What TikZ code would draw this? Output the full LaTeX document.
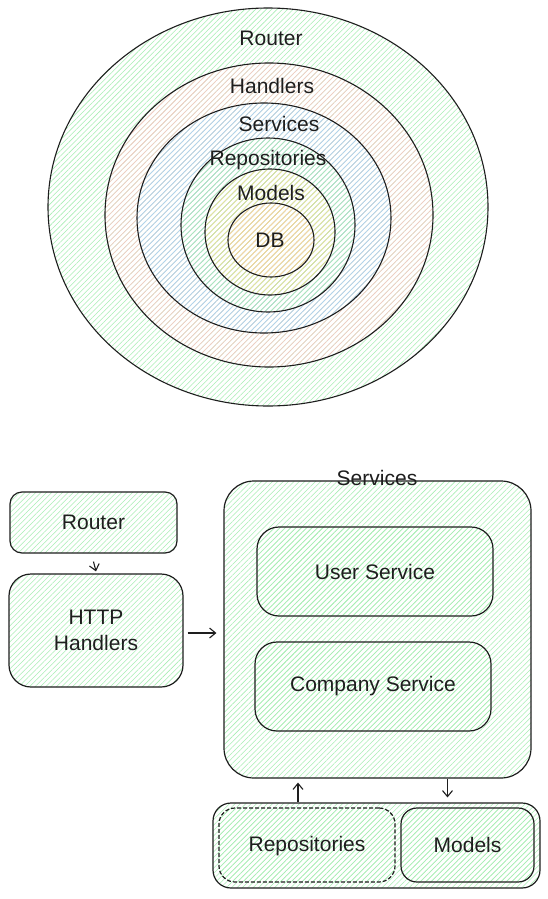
\documentclass[tikz,border=0pt]{standalone}
\usepackage{fontspec}
\setmainfont{Liberation Sans}
\usetikzlibrary{patterns.meta,arrows.meta,shapes.geometric,calc}
\definecolor{ink}{HTML}{1E1E1E}
\definecolor{hgreen}{HTML}{A8EEB4}
\definecolor{hpink}{HTML}{FFC4C4}
\definecolor{hblue}{HTML}{A0D4FA}
\definecolor{hyellow}{HTML}{F8E48E}
\definecolor{horange}{HTML}{FFD0A0}
\tikzset{
  hatch/.style={pattern={Lines[angle=45,distance=3.8pt,line width=0.55pt]}, pattern color=#1},
  ring/.style={ellipse, draw=ink, line width=1.1pt, hatch=#1, inner sep=0pt},
  box/.style={rectangle, draw=ink, line width=1.2pt, rounded corners=#1, hatch=hgreen, inner sep=0pt},
  lbl/.style={font=\fontsize{21}{26}\selectfont, text=ink, align=center},
  arr/.style={draw=ink, line width=1.1pt, -{Straight Barb[length=6pt,width=10pt]}},
}
\begin{document}
\begin{tikzpicture}[x=1pt,y=-1pt]
\useasboundingbox (0,0) rectangle (548,899);
\fill[white] (0,0) rectangle (548,899);
% ---- concentric layers ----
\node[ring=hgreen,  minimum width=440pt, minimum height=398pt] (eRouter)   at (268,207) {};
\node[ring=hpink,   minimum width=328pt, minimum height=304pt] (eHandlers) at (269,215) {};
\node[ring=hblue,   minimum width=254pt, minimum height=230pt] (eServices) at (264,218) {};
\node[ring=hgreen,  minimum width=174pt, minimum height=174pt] (eRepos)    at (268,225) {};
\node[ring=hyellow, minimum width=130pt, minimum height=126pt] (eModels)   at (270,232) {};
\node[ring=horange, minimum width=86pt,  minimum height=74pt]  (eDB)       at (271,240) {};
\node[lbl] (tRouter)   at (271,38)  {Router};
\node[lbl] (tHandlers) at (272,86)  {Handlers};
\node[lbl] (tServices) at (279,124) {Services};
\node[lbl] (tRepos)    at (268,160) {Repositories};
\node[lbl] (tModels)   at (271,193) {Models};
\node[lbl] (tDB)       at (270,240) {DB};
% ---- architecture boxes ----
\node[box=12pt, minimum width=167pt, minimum height=61pt]  (router)   at (93.5,522.5) {};
\node[lbl] at (router.center) {Router};
\node[box=22pt, minimum width=174pt, minimum height=113pt] (http)     at (96,630.5) {};
\node[lbl] at (http.center) {HTTP\\Handlers};
\node[box=30pt, minimum width=307pt, minimum height=297pt] (services) at (377.5,629.5) {};
\node[lbl] (svclbl) at (377,478) {Services};
\node[box=22pt, minimum width=236pt, minimum height=89pt]  (usersvc)  at (375,571.5) {};
\node[lbl] at (usersvc.center) {User Service};
\node[box=22pt, minimum width=236pt, minimum height=89pt]  (compsvc)  at (373,686.5) {};
\node[lbl] at (compsvc.center) {Company Service};
\node[box=18pt, minimum width=327pt, minimum height=85pt]  (container) at (376.5,845.5) {};
\node[box=16pt, dash pattern=on 4pt off 2pt, minimum width=176pt, minimum height=74pt] (rep) at (307,845) {};
\node[lbl] at ($(rep.center)+(0,1)$) {Repositories};
\node[box=16pt, minimum width=133pt, minimum height=74pt]  (models)   at (467.5,845) {};
\node[lbl] at (models.center) {Models};
% ---- connectors ----
\draw[arr] ($(router.south)+(0,8)$) -- ($(http.north)+(0,-2)$);
\draw[arr] ($(http.east)+(4,2.5)$) -- ($(services.west |- http.east)+(-7,2.5)$);
\draw[arr] ($(rep.north |- container.north)+(-9,0)$) -- ($(rep.north |- services.south)+(-9,4)$);
\draw[arr] ($(models.north |- services.south)+(-20,0)$) -- ($(models.north |- container.north)+(-20,-5)$);
\end{tikzpicture}
\end{document}
